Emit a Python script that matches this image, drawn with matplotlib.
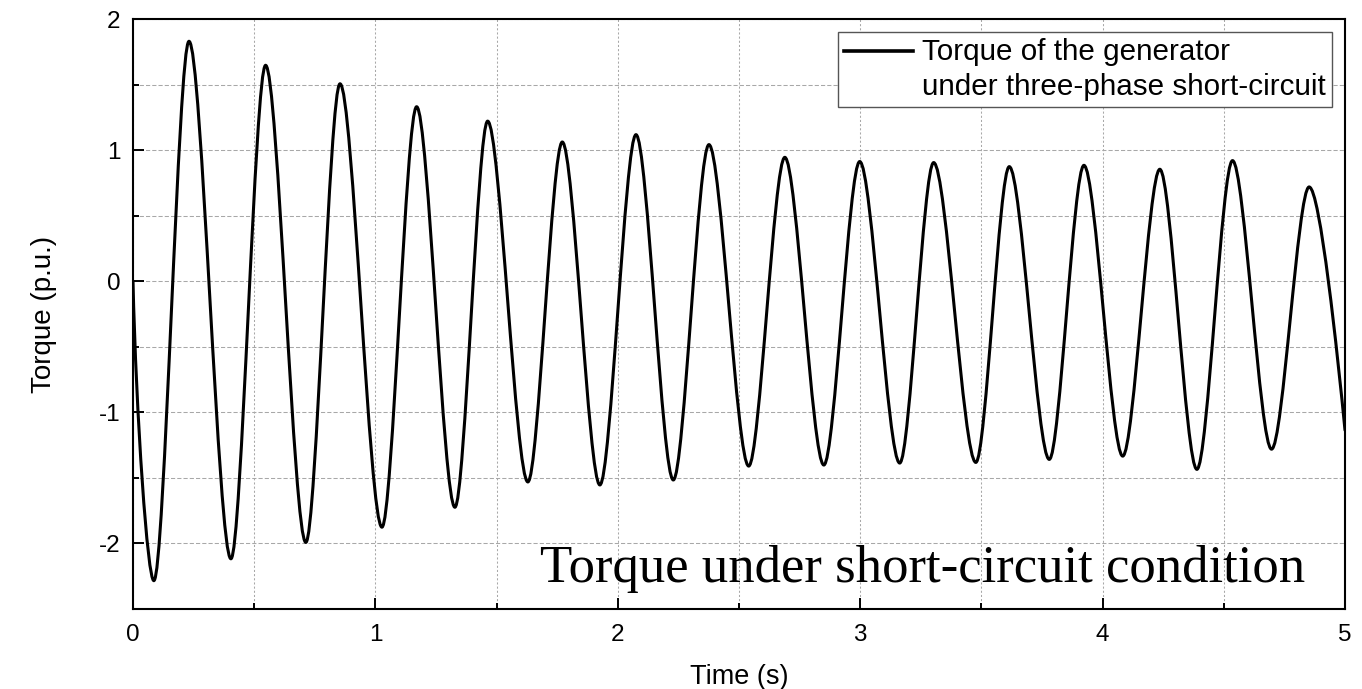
import numpy as np
import matplotlib
matplotlib.use("Agg")
import matplotlib.pyplot as plt
from matplotlib.path import Path
from matplotlib.patches import PathPatch
from matplotlib.lines import Line2D
from matplotlib.legend_handler import HandlerLine2D
from matplotlib.ticker import MultipleLocator

plt.rcParams['font.family'] = ['Liberation Sans', 'DejaVu Sans']
plt.rcParams['axes.unicode_minus'] = False
plt.rcParams['lines.scale_dashes'] = False

# ---- data: extrema of the torque curve ----
start_time = 0.0
start_value = 0.0
extrema_times = [0.086, 0.231, 0.404, 0.547, 0.713, 0.854, 1.027, 1.170,
                 1.328, 1.463, 1.629, 1.771, 1.926, 2.075, 2.229, 2.376,
                 2.540, 2.689, 2.850, 2.998, 3.163, 3.303, 3.477, 3.615,
                 3.780, 3.923, 4.083, 4.236, 4.389, 4.536, 4.697, 4.852]
extrema_values = [-2.284, 1.830, -2.117, 1.647, -1.992, 1.506, -1.876, 1.331,
                  -1.724, 1.221, -1.531, 1.062, -1.554, 1.118, -1.516, 1.042,
                  -1.410, 0.945, -1.402, 0.913, -1.387, 0.905, -1.382, 0.874,
                  -1.359, 0.884, -1.334, 0.854, -1.435, 0.920, -1.281, 0.719]
end_time = 5.0
end_value = -1.136

x_ticks = [0, 1, 2, 3, 4, 5]
y_ticks = [-2, -1, 0, 1, 2]
x_label = "Time (s)"
y_label = "Torque (p.u.)"
legend_label = "Torque of the generator\nunder three-phase short-circuit"
note_text = "Torque under short-circuit condition"

# ---- figure ----
W, H = 1362, 689
fig = plt.figure(figsize=(W / 100, H / 100), dpi=100)
ax = fig.add_axes([133 / W, 1 - 609 / H, 1212 / W, 590 / H])

# smooth curve through the extrema (cubic Bezier segments, horizontal tangents at extrema)
pts_t = [start_time] + extrema_times + [end_time]
pts_v = [start_value] + extrema_values + [end_value]
c = 0.3
verts = [(pts_t[0], pts_v[0])]
codes = [Path.MOVETO]
n = len(pts_t)
for i in range(n - 1):
    t0, v0 = pts_t[i], pts_v[i]
    t1, v1 = pts_t[i + 1], pts_v[i + 1]
    dt = t1 - t0
    if i == 0:
        c1 = (t0 + 0.15 * dt, v0 + 0.45 * (v1 - v0))
    else:
        c1 = (t0 + c * dt, v0)
    if i == n - 2:
        c2 = (t1 - 0.2 * dt, v1 - 0.3 * (v1 - v0))
    else:
        c2 = (t1 - c * dt, v1)
    verts += [c1, c2, (t1, v1)]
    codes += [Path.CURVE4, Path.CURVE4, Path.CURVE4]
curve = PathPatch(Path(verts, codes), fill=False, edgecolor='black', lw=2.2,
                  joinstyle='round', capstyle='round', zorder=3)
ax.add_patch(curve)

ax.set_xlim(0, 5)
ax.set_ylim(-2.5, 2)
ax.set_xticks(x_ticks)
ax.set_yticks(y_ticks)
ax.set_xticklabels([str(v) for v in x_ticks])
ax.set_yticklabels([str(v) for v in y_ticks])
ax.xaxis.set_minor_locator(MultipleLocator(0.5))
ax.yaxis.set_minor_locator(MultipleLocator(0.5))

ax.tick_params(which='both', direction='in', top=False, right=False,
               width=1.4, color='black')
ax.tick_params(which='major', length=8, labelsize=17.5)
ax.tick_params(which='minor', length=4.5)
ax.tick_params(axis='x', which='major', pad=11)
ax.tick_params(axis='y', which='major', pad=9)

for sp in ax.spines.values():
    sp.set_linewidth(1.5)
    sp.set_color('black')

ax.grid(True, which='both', axis='x', color='#a8a8a8', lw=0.75,
        linestyle=(0, (1.5, 1.5)))
ax.grid(True, which='both', axis='y', color='#a8a8a8', lw=0.75,
        linestyle=(0, (3.0, 1.5)))
ax.set_axisbelow(True)

ax.set_xlabel(x_label, fontsize=19.5, labelpad=13)
ax.set_ylabel(y_label, fontsize=20, labelpad=30)

# legend with the line sample beside the first text row
leg_fs = 21.3


class FirstRowLine(HandlerLine2D):
    def __init__(self, shift, **kw):
        super().__init__(**kw)
        self.shift = shift

    def create_artists(self, legend, orig_handle, xdescent, ydescent, width,
                       height, fontsize, trans):
        arts = super().create_artists(legend, orig_handle, xdescent, ydescent,
                                      width, height, fontsize, trans)
        for a in arts:
            a.set_ydata(np.asarray(a.get_ydata()) + self.shift)
        return arts


proxy = Line2D([], [], color='black', lw=2.6)
leg = ax.legend([proxy], [legend_label], loc='upper right',
                bbox_to_anchor=(1, 1), fontsize=leg_fs, frameon=True,
                fancybox=False, framealpha=1, edgecolor='#555555',
                borderaxespad=0.45, borderpad=0.2, handlelength=2.35,
                handletextpad=0.3,
                handler_map={proxy: FirstRowLine(0.66 * leg_fs)})
leg.get_frame().set_linewidth(1.0)
for txt in leg.get_texts():
    txt.set_linespacing(1.33)

ax.text(0.967, 0.0458, note_text, transform=ax.transAxes, ha='right',
        va='baseline', fontsize=38, family=['Liberation Serif', 'DejaVu Serif'],
        zorder=4)

fig.savefig("out.png", dpi=100)
